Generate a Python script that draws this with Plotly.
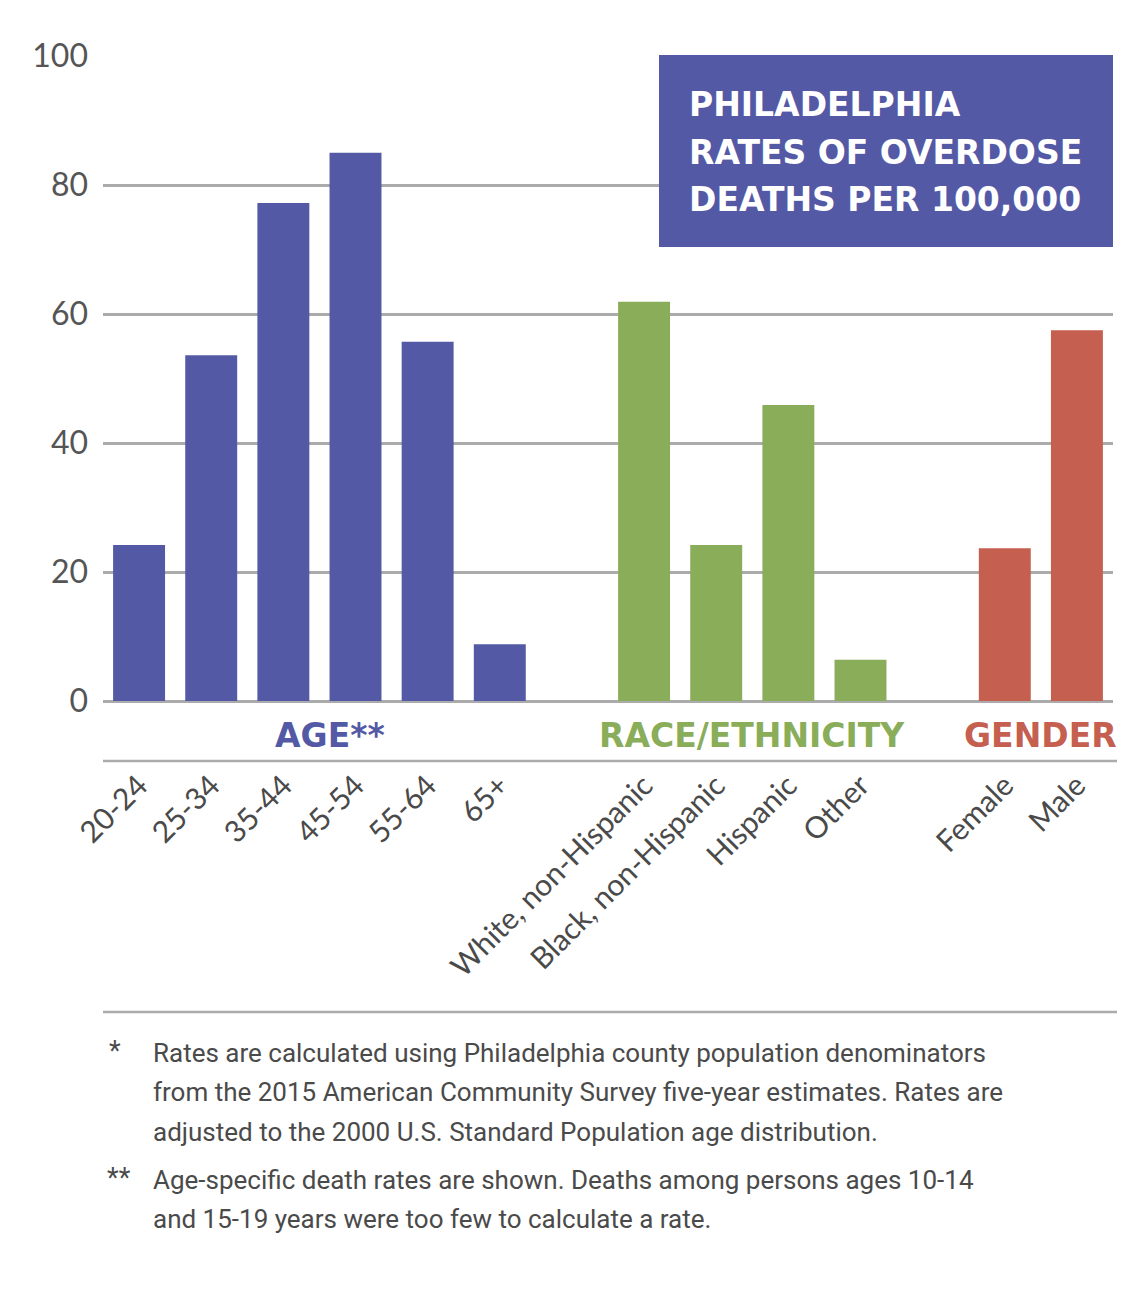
import plotly.graph_objects as go

# ---- data ----
age_labels = ["20-24", "25-34", "35-44", "45-54", "55-64", "65+"]
age_values = [24.2, 53.6, 77.2, 85.0, 55.7, 8.8]
race_labels = ["White, non-Hispanic", "Black, non-Hispanic", "Hispanic", "Other"]
race_values = [61.9, 24.2, 45.9, 6.4]
gender_labels = ["Female", "Male"]
gender_values = [23.7, 57.5]
group_names = ["AGE**", "RACE/ETHNICITY", "GENDER"]
y_ticks = [0, 20, 40, 60, 80, 100]
title_lines = ["PHILADELPHIA", "RATES OF OVERDOSE", "DEATHS PER 100,000"]
footnotes = [
    ("*", ["Rates are calculated using Philadelphia county population denominators",
           "from the 2015 American Community Survey five-year estimates. Rates are",
           "adjusted to the 2000 U.S. Standard Population age distribution."]),
    ("**", ["Age-specific death rates are shown. Deaths among persons ages 10-14",
            "and 15-19 years were too few to calculate a rate."]),
]

BLUE = "#5459A5"
GREEN = "#8AAD5A"
RED = "#C55F50"
GRID = "#ABABAB"
HEAD_FONT = "DejaVu Sans"
NOTE_FONT = "Roboto"

W, H = 1131, 1300
ML, MR, MT, MB = 103, 18, 56, 599
PW = W - ML - MR
PH = H - MT - MB


def py(ypx):
    return (H - MB - ypx) / PH


def px(xpx):
    return (xpx - ML) / PW


categories = age_labels + [" "] + race_labels + ["  "] + gender_labels

fig = go.Figure()
groups = [(age_labels, age_values, BLUE), (race_labels, race_values, GREEN),
          (gender_labels, gender_values, RED)]
for labels, vals, col in groups:
    fig.add_trace(go.Bar(x=labels, y=vals, marker=dict(color=col, line=dict(width=0)),
                         width=0.72, showlegend=False, hoverinfo="x+y"))

fig.update_layout(
    width=W, height=H,
    margin=dict(l=ML, r=MR, t=MT, b=MB),
    paper_bgcolor="white", plot_bgcolor="white",
    barmode="overlay",
    font=dict(family="Lato, sans-serif", color="#4a4a4a"),
)
fig.update_xaxes(
    type="category", categoryorder="array", categoryarray=categories,
    range=[-0.5, len(categories) - 0.5],
    tickangle=-45, tickfont=dict(size=30, color="#4a4a4a", family="Lato"),
    ticks="", showline=False, showgrid=False, ticklabelstandoff=60,
)
fig.update_yaxes(
    range=[0, 100], tickvals=y_ticks, ticks="",
    tickfont=dict(size=32, color="#555555", family="Lato"),
    showgrid=True, gridcolor=GRID, gridwidth=2.5,
    zeroline=True, zerolinecolor=GRID, zerolinewidth=2.5,
    ticklabelstandoff=14, showline=False,
)

shapes = [
    dict(type="rect", xref="paper", yref="paper", x0=px(659), x1=1.0,
         y0=py(247), y1=py(55), fillcolor=BLUE, line=dict(width=0), layer="above"),
    dict(type="line", xref="paper", yref="paper", x0=0, x1=px(1117),
         y0=py(761), y1=py(761), line=dict(color=GRID, width=2.5)),
    dict(type="line", xref="paper", yref="paper", x0=0, x1=px(1117),
         y0=py(1012), y1=py(1012), line=dict(color=GRID, width=2.5)),
]
fig.update_layout(shapes=shapes)

ann = []
for i, t in enumerate(title_lines):
    ann.append(dict(text=t, xref="paper", yref="paper", x=px(687), y=py(105 + 47 * i),
                    xanchor="left", yanchor="middle", showarrow=False,
                    font=dict(size=33, color="white", family=HEAD_FONT, weight="bold")))

group_cols = [BLUE, GREEN, RED]
group_lists = [age_labels, race_labels, gender_labels]
xshifts = [11, 0, 0]
for name, lst, col, xs in zip(group_names, group_lists, group_cols, xshifts):
    i0 = categories.index(lst[0])
    i1 = categories.index(lst[-1])
    ann.append(dict(text=name, xref="x", yref="paper", x=(i0 + i1) / 2, y=py(735),
                    xanchor="center", yanchor="middle", showarrow=False, xshift=xs,
                    font=dict(size=33, color=col, family=HEAD_FONT, weight="bold")))

line_y = [1053, 1092, 1132, 1180, 1219]
k = 0
for mark, lines in footnotes:
    ann.append(dict(text=mark, xref="paper", yref="paper", x=px(105 if len(mark) > 1 else 107),
                    y=py(line_y[k] - 2), xanchor="left", yanchor="middle", showarrow=False,
                    font=dict(size=27, color="#4a4a4a", family=NOTE_FONT)))
    for ln in lines:
        ann.append(dict(text=ln, xref="paper", yref="paper", x=px(151), y=py(line_y[k]),
                        xanchor="left", yanchor="middle", showarrow=False,
                        font=dict(size=26, color="#4a4a4a", family=NOTE_FONT)))
        k += 1
fig.update_layout(annotations=ann)

fig.write_html("out.html")
